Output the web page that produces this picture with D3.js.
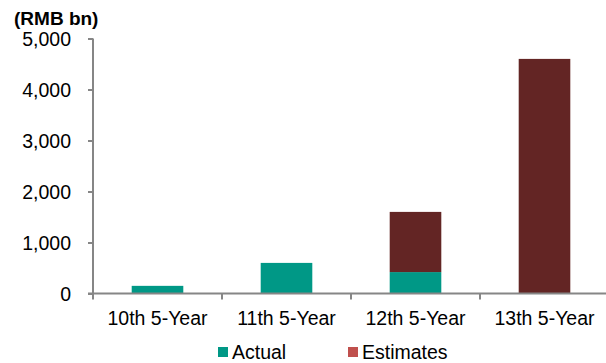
<!DOCTYPE html>
<html><head><meta charset="utf-8">
<script src="https://cdn.jsdelivr.net/npm/d3@7"></script>
<style>
body{margin:0;background:#fff;}
text{font-family:"Liberation Sans",Arial,sans-serif;fill:#000;}
</style></head>
<body><svg id="c" width="606" height="363"></svg>
<script>
const categories = ["10th 5-Year","11th 5-Year","12th 5-Year","13th 5-Year"];
const actual = [150, 600, 420, 0];
const estimates = [0, 0, 1180, 4600];
const yTicks = [0,1000,2000,3000,4000,5000];
const seriesNames = ["Actual","Estimates"];
const barColors = ["#009886","#632524"];
const legendColors = ["#009886","#c0504d"];

const svg = d3.select("#c");
const x0 = 93, y0 = 293.5, yTop = 38.5;
const x = d3.scaleBand().domain(categories).range([x0, x0 + 4*129]).paddingInner(0.6).paddingOuter(0.3);
const y = d3.scaleLinear().domain([0,5000]).range([y0, yTop]);

const rows = categories.map((c,i)=>({cat:c, Actual:actual[i], Estimates:estimates[i]}));
const stacked = d3.stack().keys(seriesNames)(rows);

svg.append("g").selectAll("g").data(stacked).join("g")
  .attr("fill",(d,i)=>barColors[i])
  .selectAll("rect").data(d=>d).join("rect")
  .attr("x",d=>x(d.data.cat))
  .attr("width",x.bandwidth())
  .attr("y",d=>y(d[1]))
  .attr("height",d=>y(d[0])-y(d[1]));

// Y axis
const ya = svg.append("g").attr("transform",`translate(${x0},0)`)
  .call(d3.axisLeft(y).tickValues(yTicks).tickFormat(d3.format(",")).tickSize(5).tickPadding(17));
ya.select(".domain").attr("stroke","#868686").attr("stroke-width",2).attr("d",`M0,${yTop}H0V${y0}`);
ya.selectAll(".tick line").attr("stroke","#868686").attr("stroke-width",2);
ya.selectAll(".tick text").style("font-size","19.5px").attr("dy","0.35em");

// X axis
const step = 129;
const xa = svg.append("g").attr("transform",`translate(0,${y0})`);
xa.append("line").attr("x1",x0-5).attr("x2",606).attr("stroke","#868686").attr("stroke-width",2);
xa.selectAll(".sep").data(d3.range(4)).join("line")
  .attr("x1",i=>x0+i*step).attr("x2",i=>x0+i*step).attr("y1",0).attr("y2",6)
  .attr("stroke","#868686").attr("stroke-width",2);
xa.selectAll(".lab").data(categories).join("text")
  .attr("x",d=>x(d)+x.bandwidth()/2).attr("y",31.5)
  .attr("text-anchor","middle").style("font-size","19.5px").text(d=>d);

// Unit title
svg.append("text").attr("x",14).attr("y",25).style("font-size","19px").style("font-weight","bold").text("(RMB bn)");

// Legend
const lx = [218, 348];
const lg = svg.append("g").selectAll("g").data(seriesNames).join("g")
  .attr("transform",(d,i)=>`translate(${lx[i]},347)`);
lg.append("rect").attr("width",10).attr("height",10).attr("fill",(d,i)=>legendColors[i]);
lg.append("text").attr("x",14).attr("y",11.5).style("font-size","19.5px").text(d=>d);
</script></body></html>
